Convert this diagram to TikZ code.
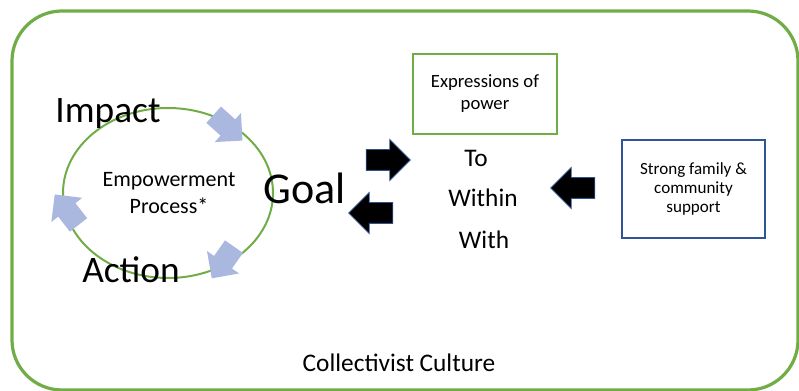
\documentclass[tikz,border=0pt]{standalone}
\usepackage{fontspec}
\setmainfont{Carlito}
\usetikzlibrary{shapes.arrows}
\definecolor{grass}{HTML}{70AD47}
\definecolor{lavender}{HTML}{AAB8DF}
\definecolor{navy}{HTML}{2F5597}
\definecolor{inkblue}{HTML}{2F528F}
\tikzset{
  bigarrow/.style={single arrow, draw=inkblue, fill=black, line width=0.6pt, inner xsep=0pt,
    inner ysep=7.5pt, minimum height=33pt, single arrow head extend=7.5pt,
    single arrow tip angle=90, single arrow head indent=0pt},
  cyclearrow/.style={single arrow, fill=lavender, inner xsep=0pt, inner ysep=8pt,
    minimum height=29pt, single arrow head extend=6.5pt,
    single arrow tip angle=90, single arrow head indent=0pt},
  word/.style={inner sep=0pt, anchor=base}
}
\begin{document}
\begin{tikzpicture}[x=0.75pt, y=-0.75pt, font=\fontsize{12}{14}\selectfont]
  \useasboundingbox (0,0) rectangle (799,391);
  \begin{scope}
    \clip (0,0) rectangle (799,391);
    \draw[grass, line width=2.4pt, rounded corners=37.5pt] (12,11) rectangle (798,390);
  \end{scope}

  % empowerment cycle
  \draw[grass, line width=1.5pt] (168,193) ellipse [x radius=105, y radius=85];
  \node[cyclearrow, rotate=-42] (arrtr) at (224,124) {};
  \node[cyclearrow, rotate=-125] (arrbr) at (226,258) {};
  \node[cyclearrow, rotate=128] (arrl) at (70,214) {};
  \node[align=center, font=\fontsize{16.5}{20}\selectfont] (proc) at (169,193) {Empowerment\\Process*};
  \node[word, font=\fontsize{28}{30}\selectfont] (impact) at (108,123) {Impact};
  \node[word, font=\fontsize{28}{30}\selectfont] (action) at (131,283) {Action};
  \node[word, font=\fontsize{33}{36}\selectfont] (goal) at (305,204) {Goal};

  % arrows between goal and power
  \node[bigarrow] (toright) at (383,160) {};
  \node[bigarrow, rotate=180] (toleft) at (376,213) {};
  \node[bigarrow, rotate=180] (fromfam) at (578,188) {};

  % expressions of power
  \node[draw=grass, line width=1pt, minimum width=108pt, minimum height=60pt, align=center,
    font=\fontsize{14}{16.5}\selectfont] (expr) at (485,94) {Expressions of\\power};
  \node[word, font=\fontsize{19}{22}\selectfont] (to) at (476,167) {To};
  \node[word, font=\fontsize{19}{22}\selectfont] (within) at (483,207) {Within};
  \node[word, font=\fontsize{19}{22}\selectfont] (with) at (484,249) {With};

  % family support
  \node[draw=navy, line width=1.3pt, minimum width=107pt, minimum height=73pt, align=center,
    font=\fontsize{12.8}{14.5}\selectfont] (family) at (693.5,189) {Strong family \&\\community\\support};

  \node[word, font=\fontsize{19}{22}\selectfont] (culture) at (399,371) {Collectivist Culture};
\end{tikzpicture}
\end{document}
